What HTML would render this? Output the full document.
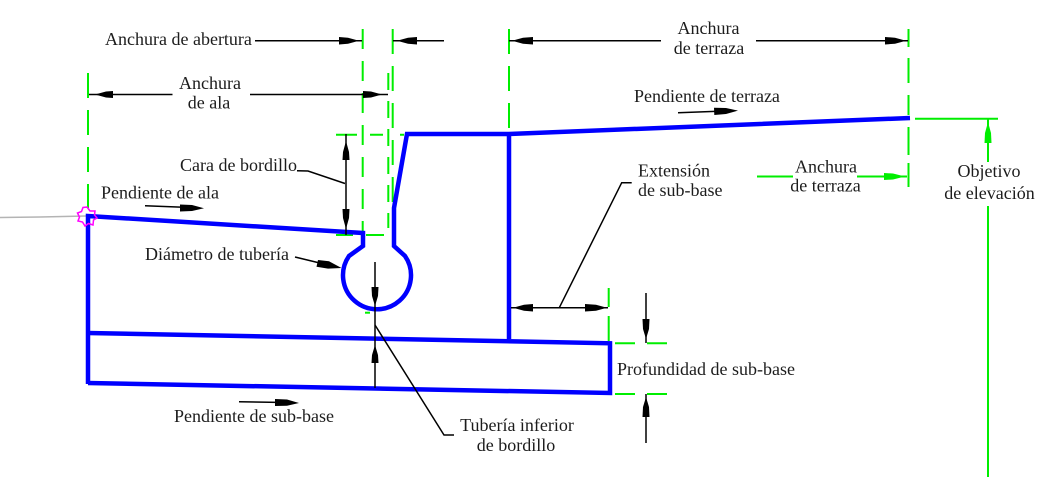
<!DOCTYPE html>
<html>
<head>
<meta charset="utf-8">
<style>
  html, body { margin: 0; padding: 0; background: #ffffff; }
  body { width: 1062px; height: 478px; overflow: hidden; }
  svg { display: block; }
  text { font-family: "Liberation Serif", "Times New Roman", serif; font-size: 18px; fill: #1c1c1c; }
</style>
</head>
<body>
<svg width="1062" height="478" viewBox="0 0 1062 478" xmlns="http://www.w3.org/2000/svg">
  <rect x="0" y="0" width="1062" height="478" fill="#ffffff"/>

  <!-- ============ GREEN EXTENSION LINES ============ -->
  <g stroke="#00ee00" stroke-width="2" fill="none">
    <line x1="88" y1="73" x2="88" y2="208" stroke-dasharray="25,12"/>
    <line x1="362.7" y1="29" x2="362.7" y2="236" stroke-dasharray="20,12"/>
    <line x1="388.3" y1="73" x2="388.3" y2="228" stroke-dasharray="17,11"/>
    <line x1="392.7" y1="29" x2="392.7" y2="205" stroke-dasharray="25,12"/>
    <line x1="509" y1="29" x2="509" y2="130" stroke-dasharray="25,12"/>
    <line x1="508" y1="288" x2="508" y2="336" stroke-dasharray="19,6"/>
    <line x1="908.5" y1="29" x2="908.5" y2="187" stroke-dasharray="18,11,25,12,20,12,28,8,24,0"/>
    <line x1="336" y1="134.7" x2="404" y2="134.7" stroke-dasharray="21,13,13,17,4,0"/>
    <line x1="336" y1="235" x2="384" y2="235" stroke-dasharray="17,13,17,0"/>
    <line x1="608.7" y1="288" x2="608.7" y2="341" stroke-dasharray="19,9,20,0"/>
    <line x1="615" y1="343.3" x2="667" y2="343.3" stroke-dasharray="20,12"/>
    <line x1="615" y1="394" x2="667" y2="394" stroke-dasharray="20,12"/>
    <line x1="915" y1="118.7" x2="998" y2="118.7"/>
    <line x1="365" y1="312.7" x2="370" y2="312.7"/>
    <line x1="365" y1="338.7" x2="370" y2="338.7"/>
    <!-- green dimension: Anchura de terraza (lower) -->
    <line x1="757" y1="176.5" x2="793" y2="176.5"/>
    <line x1="857" y1="176.5" x2="907" y2="176.5"/>
    <!-- Objetivo de elevacion -->
    <line x1="988" y1="119" x2="988" y2="162"/>
    <line x1="988" y1="206" x2="988" y2="477"/>
  </g>
  <g fill="#00ee00" stroke="none">
    <polygon points="905,176.5 893,173.5 884,173 884,180 893,179.5"/>
    <polygon points="988,122 985,133 984.5,143 991.5,143 991,133"/>
  </g>

  <!-- ============ GRAY REFERENCE LINE ============ -->
  <polyline points="0,217.5 40,217 86,216" stroke="#b4b4b4" stroke-width="1.6" fill="none"/>

  <!-- ============ BLUE PROFILE ============ -->
  <g stroke="#0000ff" stroke-width="4.5" fill="none" stroke-linejoin="miter">
    <path d="M88,384 L88,216 L363,233 L363,246 L349,256 A34,34 0 1 0 405,256 L394,246 L394,208 L407,134 L509,134 L910,118"/>
    <path d="M509,134 L509,339"/>
    <path d="M88,333 L610,343.3 L610,393 L88,383"/>
  </g>

  <!-- magenta marker -->
  <polygon points="87,207 90,211 95,211 94.5,215 97,218 93.5,220 93,225 88.5,223.5 85,226 82.5,222 78,221 79.5,217 77.5,213 81.5,211.5 83,207.5" stroke="#ff00ff" stroke-width="1.5" fill="none"/>

  <!-- ============ BLACK DIMENSION LINES / LEADERS ============ -->
  <g stroke="#000000" stroke-width="1.5" fill="none">
    <!-- Anchura de abertura -->
    <line x1="255" y1="40.7" x2="362" y2="40.7"/>
    <line x1="393" y1="40.7" x2="444" y2="40.7"/>
    <!-- Anchura de ala -->
    <line x1="89" y1="94.5" x2="172.5" y2="94.5"/>
    <line x1="250" y1="94.5" x2="388" y2="94.5"/>
    <!-- Anchura de terraza (top) -->
    <line x1="509" y1="40.7" x2="661" y2="40.7"/>
    <line x1="756" y1="40.7" x2="908" y2="40.7"/>
    <!-- Pendiente de terraza -->
    <line x1="678" y1="112.7" x2="725" y2="111"/>
    <!-- Pendiente de ala -->
    <line x1="145" y1="205.7" x2="190" y2="207.5"/>
    <!-- Cara de bordillo -->
    <line x1="346" y1="134" x2="346" y2="235"/>
    <polyline points="297,170.7 308,171 345,183.5"/>
    <!-- Diametro de tuberia leader -->
    <line x1="295" y1="257" x2="330" y2="265.5"/>
    <!-- pipe vertical -->
    <line x1="375" y1="262" x2="375" y2="388"/>
    <!-- Tuberia inferior leader -->
    <polyline points="375,325 444,435 454,435"/>
    <!-- Pendiente de sub-base -->
    <line x1="239" y1="401.7" x2="285" y2="402.5"/>
    <!-- Extension de sub-base -->
    <line x1="511" y1="307.7" x2="608" y2="307.7"/>
    <polyline points="559.3,307.7 621.7,182.7 631.7,182.7"/>
    <!-- Profundidad de sub-base -->
    <line x1="646" y1="293" x2="646" y2="343"/>
    <line x1="646" y1="394" x2="646" y2="443"/>
  </g>

  <!-- arrowheads -->
  <g fill="#000000" stroke="none">
    <!-- abertura -->
    <polygon points="359,40.7 348,37.7 339,37 339,44.5 348,43.7"/>
    <polygon points="397,40.7 408,37.7 417,37 417,44.5 408,43.7"/>
    <!-- ala -->
    <polygon points="95,94.5 106,91.5 113,91 113,98 106,97.5"/>
    <polygon points="382,94.5 371,91.5 363,91 363,98 371,97.5"/>
    <!-- terraza top -->
    <polygon points="512,40.7 523,37.7 533,37 533,44.5 523,43.7"/>
    <polygon points="906,40.7 895,37.7 885,37 885,44.5 895,43.7"/>
    <!-- pendiente de terraza -->
    <polygon points="738,110.6 726,108 714,107.7 714.3,115 726,114"/>
    <!-- pendiente de ala -->
    <polygon points="204,208.2 192,205 180,204.5 180,211.5 192,211"/>
    <!-- cara de bordillo -->
    <polygon points="346,141 343,152 342.5,160 349.5,160 349,152"/>
    <polygon points="346,229 343,218 342.5,209 349.5,209 349,218"/>
    <!-- diametro -->
    <polygon points="341.5,268 329,261.3 318,260 316.5,266.8 328,268.6"/>
    <!-- pipe arrows -->
    <polygon points="375,306 372,296 371.5,287 378.5,287 378,296"/>
    <polygon points="375,345 372,355 371.5,363 378.5,363 378,355"/>
    <!-- pendiente sub-base -->
    <polygon points="299,403 287,399.5 275,399 275,406 287,405.8"/>
    <!-- extension sub-base -->
    <polygon points="513,307.7 524,304.7 533,304 533,311.5 524,310.7"/>
    <polygon points="607,307.7 596,304.7 585,304 585,311.5 596,310.7"/>
    <!-- profundidad -->
    <polygon points="646,339 643,329 642.5,319 649.5,319 649,329"/>
    <polygon points="646,397 643,407 642.5,417 649.5,417 649,407"/>
  </g>

  <!-- ============ TEXT ============ -->
  <text x="105" y="45">Anchura de abertura</text>
  <text x="210" y="89" text-anchor="middle">Anchura</text>
  <text x="209" y="108.5" text-anchor="middle">de ala</text>
  <text x="180" y="171">Cara de bordillo</text>
  <text x="101" y="198.5">Pendiente de ala</text>
  <text x="145" y="260">Diámetro de tubería</text>
  <text x="174" y="422">Pendiente de sub-base</text>
  <text x="517" y="431" text-anchor="middle">Tubería inferior</text>
  <text x="516" y="451" text-anchor="middle">de bordillo</text>
  <text x="617" y="375">Profundidad de sub-base</text>
  <text x="638" y="176.7">Extensión</text>
  <text x="638" y="196">de sub-base</text>
  <text x="708.5" y="34" text-anchor="middle">Anchura</text>
  <text x="709" y="54" text-anchor="middle">de terraza</text>
  <text x="634" y="102">Pendiente de terraza</text>
  <text x="826" y="172.3" text-anchor="middle">Anchura</text>
  <text x="825.5" y="191.7" text-anchor="middle">de terraza</text>
  <text x="989" y="177" text-anchor="middle">Objetivo</text>
  <text x="989.5" y="199" text-anchor="middle">de elevación</text>
</svg>
</body>
</html>
